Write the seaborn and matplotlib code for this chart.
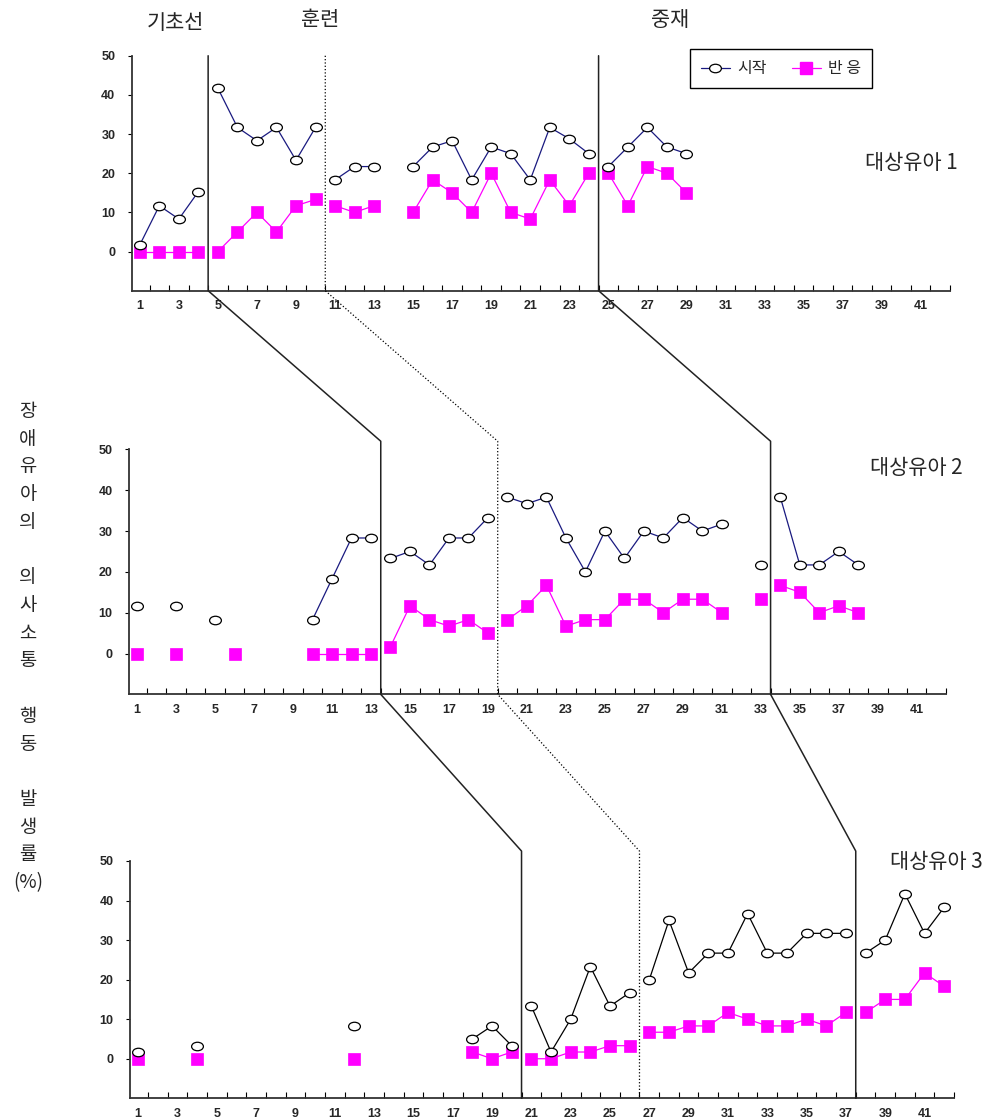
import numpy as np
import pandas as pd
import seaborn as sns
import matplotlib.pyplot as plt
from matplotlib.path import Path
from matplotlib.lines import Line2D

phase_names = ['기초선', '훈련', '중재']
child_names = ['대상유아 1', '대상유아 2', '대상유아 3']
series_names = ['시작', '반 응']
y_title = '장\n애\n유\n아\n의\n\n의\n사\n소\n통\n\n행\n동\n\n발\n생\n률\n(%)'

# 대상유아 1
c1_start_x = [1, 2, 3, 4, 5, 6, 7, 8, 9, 10, 11, 12, 13, 15, 16, 17, 18, 19, 20, 21, 22, 23, 24, 25, 26, 27, 28, 29]
c1_start_y = [1.7, 11.7, 8.3, 15.3, 41.7, 31.7, 28.3, 31.7, 23.3, 31.7, 18.3, 21.7, 21.7, 21.7, 26.7, 28.3, 18.3, 26.7,
              25, 18.3, 31.7, 28.8, 25, 21.7, 26.7, 31.7, 26.7, 25]
c1_resp_x = [1, 2, 3, 4, 5, 6, 7, 8, 9, 10, 11, 12, 13, 15, 16, 17, 18, 19, 20, 21, 22, 23, 24, 25, 26, 27, 28, 29]
c1_resp_y = [0, 0, 0, 0, 0, 5, 10, 5, 11.7, 13.3, 11.7, 10, 11.7, 10, 18.3, 15, 10, 20, 10, 8.3, 18.3, 11.7, 20,
             20, 11.7, 21.7, 20, 15]
c1_bounds = [4.5, 10.5, 24.5]

# 대상유아 2
c2_start_x = [1, 3, 5, 10, 11, 12, 13, 14, 15, 16, 17, 18, 19, 20, 21, 22, 23, 24, 25, 26, 27, 28, 29, 30, 31,
              33, 34, 35, 36, 37, 38]
c2_start_y = [11.7, 11.7, 8.3, 8.3, 18.3, 28.3, 28.3, 23.3, 25, 21.7, 28.3, 28.3, 33.3, 38.3, 36.7, 38.3, 28.3, 20,
              30, 23.3, 30, 28.3, 33.3, 30, 31.7, 21.7, 38.3, 21.7, 21.7, 25, 21.7]
c2_resp_x = [1, 3, 6, 10, 11, 12, 13, 14, 15, 16, 17, 18, 19, 20, 21, 22, 23, 24, 25, 26, 27, 28, 29, 30, 31,
             33, 34, 35, 36, 37, 38]
c2_resp_y = [0, 0, 0, 0, 0, 0, 0, 1.7, 11.7, 8.3, 6.7, 8.3, 5, 8.3, 11.7, 16.7, 6.7, 8.3, 8.3, 13.3, 13.3, 10,
             13.3, 13.3, 10, 13.3, 16.7, 15, 10, 11.7, 10]
c2_bounds = [13.5, 19.5, 33.5]

# 대상유아 3
c3_start_x = [1, 4, 12, 18, 19, 20, 21, 22, 23, 24, 25, 26, 27, 28, 29, 30, 31, 32, 33, 34, 35, 36, 37,
              38, 39, 40, 41, 42]
c3_start_y = [1.7, 3.3, 8.3, 5, 8.3, 3.3, 13.3, 1.7, 10, 23.3, 13.3, 16.7, 20, 35, 21.7, 26.7, 26.7, 36.7, 26.7,
              26.7, 31.7, 31.7, 31.7, 26.7, 30, 41.7, 31.7, 38.3]
c3_resp_x = [1, 4, 12, 18, 19, 20, 21, 22, 23, 24, 25, 26, 27, 28, 29, 30, 31, 32, 33, 34, 35, 36, 37,
             38, 39, 40, 41, 42]
c3_resp_y = [0, 0, 0, 1.7, 0, 1.7, 0, 0, 1.7, 1.7, 3.3, 3.3, 6.7, 6.7, 8.3, 8.3, 11.7, 10, 8.3, 8.3, 10, 8.3,
             11.7, 11.7, 15, 15, 21.7, 18.3]
c3_bounds = [20.5, 26.5, 37.5]

y_ticks = [0, 10, 20, 30, 40, 50]
x_ticks = list(range(1, 42, 2))


def segments(xs, bounds):
    # new segment wherever a session is missing or a phase line is crossed
    seg, out = 0, []
    for i, x in enumerate(xs):
        if i > 0 and (x - xs[i - 1] > 1 or any(xs[i - 1] < b < x for b in bounds)):
            seg += 1
        out.append(seg)
    return out


def make_df(xs, ys, bounds):
    return pd.DataFrame({'session': xs, 'value': ys, 'seg': segments(xs, bounds)})


ell = Path.unit_circle()
ell = Path(ell.vertices * np.array([1.0, 0.72]), ell.codes)

sns.set_style('white')
plt.rcParams['font.family'] = ['Noto Sans CJK KR', 'DejaVu Sans']

fig = plt.figure(figsize=(9.94, 11.19), dpi=100)
rects = [[0.1328, 0.7402, 0.8229, 0.2100],
         [0.1301, 0.3795, 0.8216, 0.2189],
         [0.1311, 0.0185, 0.8287, 0.2121]]
panels = [(c1_start_x, c1_start_y, c1_resp_x, c1_resp_y, c1_bounds, '#1a1a80'),
          (c2_start_x, c2_start_y, c2_resp_x, c2_resp_y, c2_bounds, '#1a1a80'),
          (c3_start_x, c3_start_y, c3_resp_x, c3_resp_y, c3_bounds, 'black')]
axes = []
for rect, (sx, sy, rx, ry, bounds, scol) in zip(rects, panels):
    ax = fig.add_axes(rect)
    sns.lineplot(data=make_df(rx, ry, bounds), x='session', y='value', units='seg', estimator=None,
                 color='#ff00ff', lw=0.9, marker='s', markersize=8, markerfacecolor='#ff00ff',
                 markeredgecolor='#ff00ff', markeredgewidth=0.5, ax=ax, zorder=3)
    sns.lineplot(data=make_df(sx, sy, bounds), x='session', y='value', units='seg', estimator=None,
                 color=scol, lw=0.9, marker=ell, markersize=8.5, markerfacecolor='white',
                 markeredgecolor='black', markeredgewidth=0.9, ax=ax, zorder=4)
    ax.set_xlim(0.6, 42.5)
    ax.set_ylim(-10, 50)
    ax.set_xlabel('')
    ax.set_ylabel('')
    ax.set_yticks(y_ticks)
    ax.set_xticks(x_ticks)
    ax.set_xticks(np.arange(1.5, 43, 1), minor=True)
    ax.set_xticklabels([str(t) for t in x_ticks], fontfamily='Liberation Sans', fontweight='bold', fontsize=9)
    ax.set_yticklabels([str(t) for t in y_ticks], fontfamily='Liberation Sans', fontweight='bold', fontsize=9)
    ax.tick_params(axis='x', which='major', length=0, pad=7)
    ax.tick_params(axis='x', which='minor', direction='in', length=4, width=0.8, color='black', bottom=True)
    ax.tick_params(axis='y', which='major', direction='out', length=3, width=0.8, color='black', left=True, pad=9)
    for side in ['top', 'right']:
        ax.spines[side].set_visible(False)
    for side in ['left', 'bottom']:
        ax.spines[side].set_color('#333333')
        ax.spines[side].set_linewidth(1.3)
    ax.patch.set_alpha(0)
    axes.append(ax)

# legend in panel 1
handles = [Line2D([], [], color='#1a1a80', lw=0.9, marker=ell, markersize=8.5, markerfacecolor='white',
                  markeredgecolor='black', markeredgewidth=0.9),
           Line2D([], [], color='#ff00ff', lw=0.9, marker='s', markersize=8, markerfacecolor='#ff00ff',
                  markeredgecolor='#ff00ff')]
leg = axes[0].legend(handles, series_names, ncol=2, loc='upper left', bbox_to_anchor=(0.682, 1.0285),
                     borderaxespad=0, frameon=True, fancybox=False, edgecolor='black', framealpha=1,
                     fontsize=11.5, handlelength=1.8, columnspacing=1.6, borderpad=0.7, handletextpad=0.45)
leg.get_frame().set_linewidth(1.0)

# phase change lines running through all three panels
all_bounds = [c1_bounds, c2_bounds, c3_bounds]
tops = [50, 52, 52.5]
inv = fig.transFigure.inverted()
for j in range(3):
    pts = []
    for ax, bnds, top in zip(axes, all_bounds, tops):
        pts.append(inv.transform(ax.transData.transform((bnds[j], top))))
        pts.append(inv.transform(ax.transData.transform((bnds[j], -10))))
    pts = np.array(pts)
    if j == 1:
        fig.add_artist(Line2D(pts[:, 0], pts[:, 1], transform=fig.transFigure, color='black', lw=0.9, ls=':'))
    else:
        fig.add_artist(Line2D(pts[:, 0], pts[:, 1], transform=fig.transFigure, color='#222222', lw=1.1))

# texts
for name, xp, yp in zip(phase_names, [175, 320, 670], [23, 20, 20]):
    fig.text(xp / 994, 1 - yp / 1119, name, ha='center', va='center', fontsize=15)
for name, (xp, yp) in zip(child_names, [(865, 163), (870, 468), (890, 862)]):
    fig.text(xp / 994, 1 - yp / 1119, name, ha='left', va='center', fontsize=15)
fig.text(28 / 994, 1 - 647 / 1119, y_title, ha='center', va='center', fontsize=13.5, linespacing=1.42)

fig.savefig('out.png', dpi=100)
